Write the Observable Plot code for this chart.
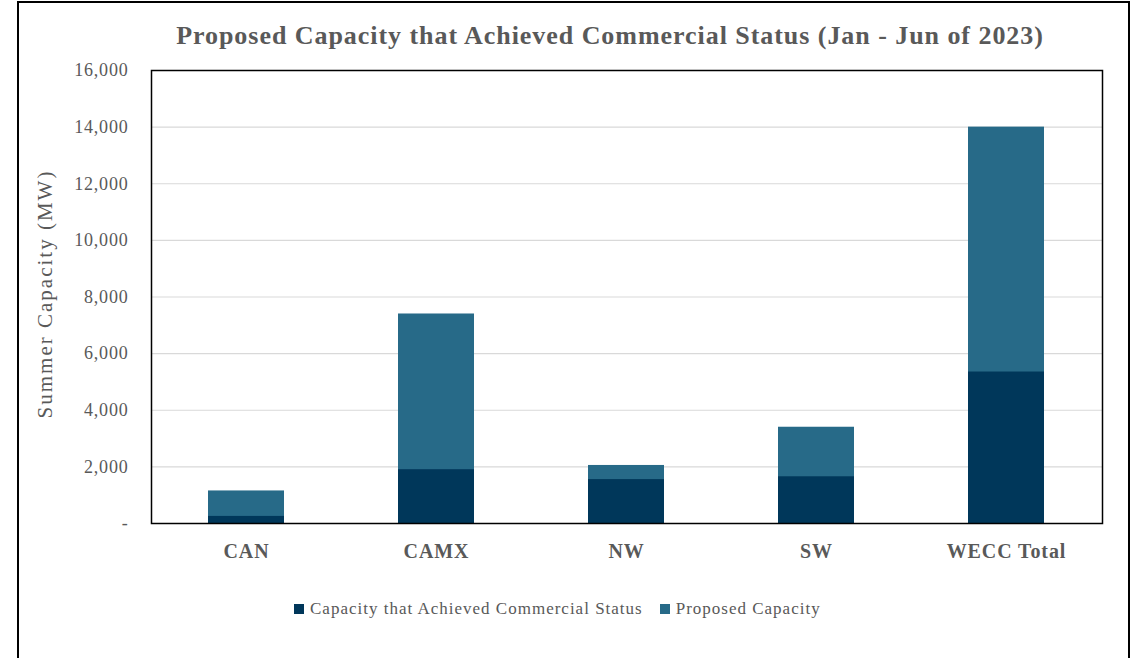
<!DOCTYPE html>
<html>
<head>
<meta charset="utf-8">
<script src="https://cdn.jsdelivr.net/npm/d3@7"></script>
<script src="https://cdn.jsdelivr.net/npm/@observablehq/plot@0.6"></script>
<style>
  html, body { margin: 0; padding: 0; background: #fff; }
  body { width: 1135px; height: 658px; position: relative; overflow: hidden; font-family: "Liberation Serif", "DejaVu Serif", serif; }
  #box { position: absolute; left: 17px; top: 1px; width: 1109px; height: 670px; border: 2px solid #000; box-sizing: content-box; }
  #title { position: absolute; left: 610px; top: 21px; transform: translateX(-50%); white-space: nowrap; font-size: 26px; letter-spacing: 0.95px; font-weight: bold; color: #595959; }
  #chart { position: absolute; left: 0; top: 60px; }
  #legend { position: absolute; left: 294px; top: 599px; display: flex; align-items: center; font-size: 17px; letter-spacing: 1px; color: #595959; white-space: nowrap; }
  .sw { display: inline-block; width: 10px; height: 10px; margin-right: 6px; }
  .item { display: flex; align-items: center; margin-right: 17px; }
</style>
</head>
<body>
<div id="box"></div>
<div id="title">Proposed Capacity that Achieved Commercial Status (Jan - Jun of 2023)</div>
<div id="chart"></div>
<div id="legend"></div>
<script>
const regions = ["CAN", "CAMX", "NW", "SW", "WECC Total"];
const proposed = [1150, 7400, 2050, 3400, 14000];
const achieved = [250, 1900, 1550, 1650, 5350];
const seriesNames = ["Capacity that Achieved Commercial Status", "Proposed Capacity"];
const seriesColors = ["#00375a", "#276a88"];
const yTicks = [0, 2000, 4000, 6000, 8000, 10000, 12000, 14000, 16000];

const rows = regions.map((r, i) => ({region: r, proposed: proposed[i], achieved: achieved[i]}));

const chart = Plot.plot({
  width: 1135,
  height: 520,
  marginLeft: 151,
  marginRight: 33,
  marginTop: 10,
  marginBottom: 57,
  style: {fontFamily: "Liberation Serif, DejaVu Serif, serif", fontSize: "16px", color: "#595959", background: "transparent"},
  x: {domain: regions, paddingInner: 0.6, paddingOuter: 0.3, label: null},
  y: {domain: [0, 16000], label: null},
  marks: [
    Plot.gridY(yTicks, {stroke: "#d9d9d9", strokeOpacity: 1, strokeWidth: 1.2}),
    Plot.barY(rows, {x: "region", y: "proposed", fill: seriesColors[1]}),
    Plot.barY(rows, {x: "region", y: "achieved", fill: seriesColors[0]}),
    Plot.axisY({ticks: yTicks, tickSize: 0, tickPadding: 23, tickFormat: d => d === 0 ? "-" : d3.format(",")(d), fontSize: 18, label: null}),
    Plot.text(["Summer Capacity (MW)"], {frameAnchor: "left", dx: -106, dy: -3, rotate: -90, textAnchor: "middle", fontSize: 21, fill: "#595959"}),
    Plot.axisX({tickSize: 0, tickPadding: 20, fontSize: 20, fontWeight: "bold", label: null}),
    Plot.frame({stroke: "#000", strokeWidth: 1.5})
  ]
});
document.getElementById("chart").appendChild(chart);
const sel = d3.select(chart);
sel.selectAll('g[aria-label="y-axis tick label"]').attr("letter-spacing", "0.8");
sel.selectAll('g[aria-label="x-axis tick label"]').attr("letter-spacing", "0.9");
sel.selectAll('g[aria-label="text"]').attr("letter-spacing", "2.0");

const legend = document.getElementById("legend");
seriesNames.forEach((n, i) => {
  const it = document.createElement("div");
  it.className = "item";
  const sw = document.createElement("span");
  sw.className = "sw";
  sw.style.background = seriesColors[i];
  it.appendChild(sw);
  it.appendChild(document.createTextNode(n));
  legend.appendChild(it);
});
</script>
</body>
</html>
